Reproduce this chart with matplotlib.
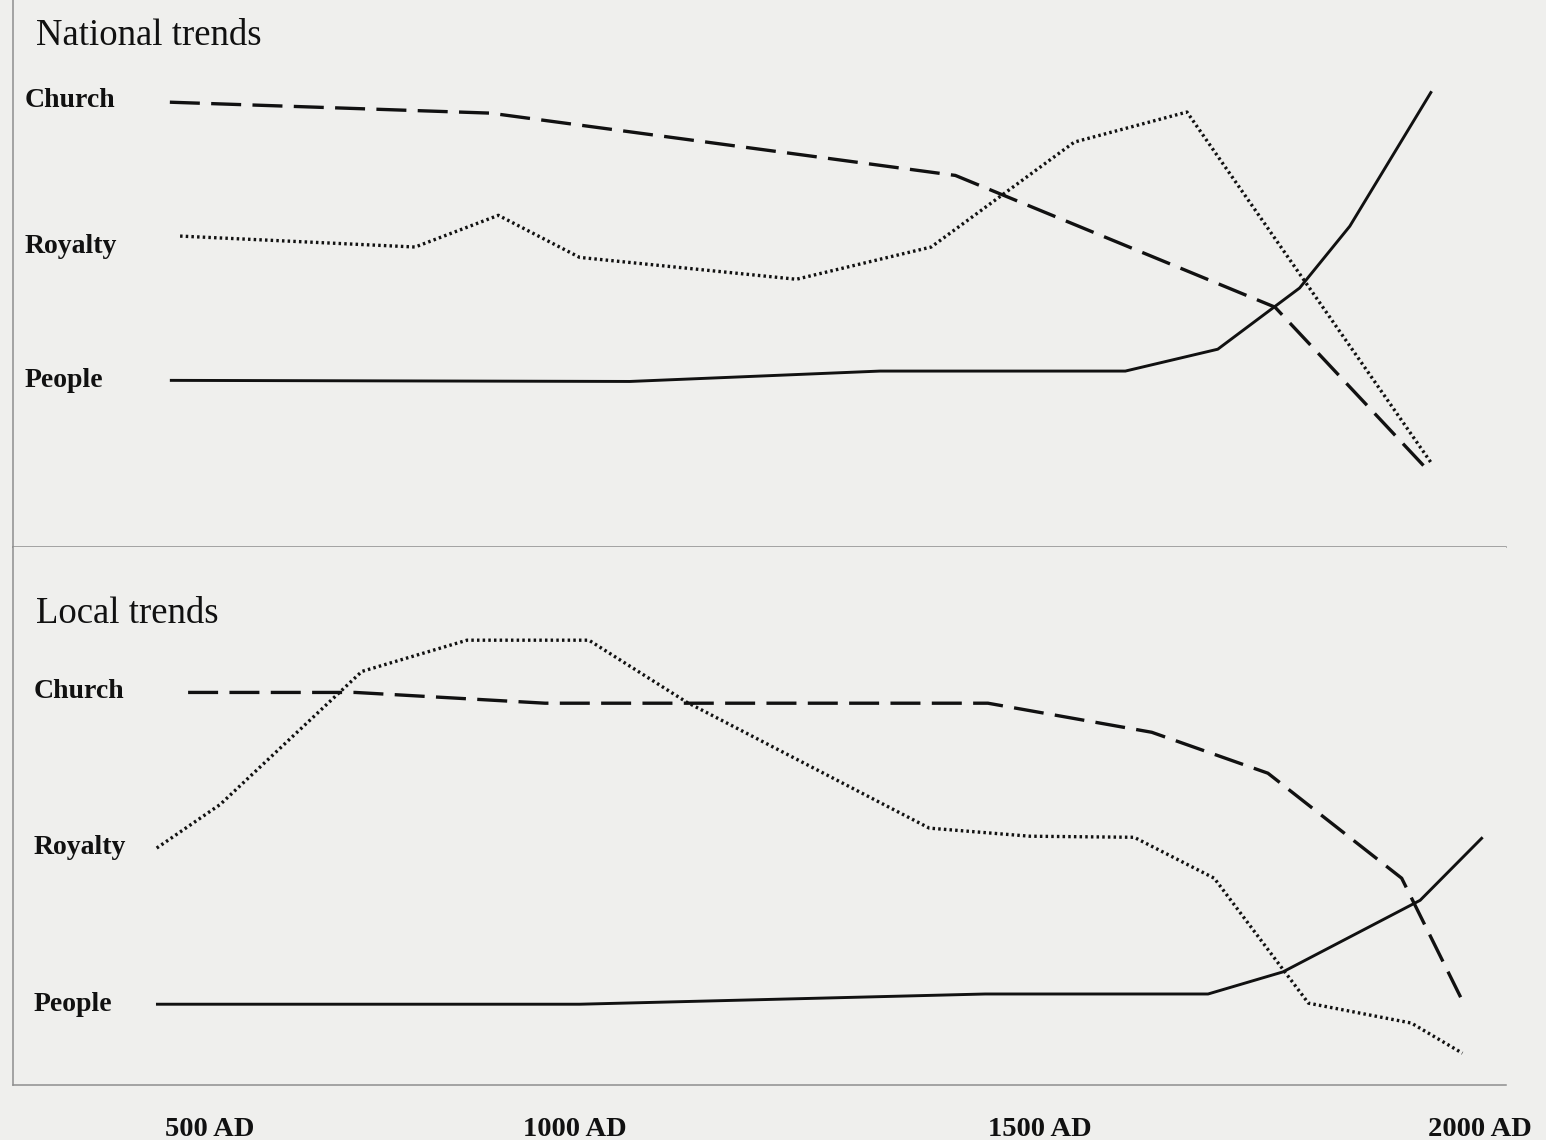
import numpy as np
import matplotlib
matplotlib.use("Agg")
import matplotlib.pyplot as plt

# ---------------- data (years, relative influence 0-100) ----------------
series_names = ["Church", "Royalty", "People"]
tick_years = [500, 1000, 1500, 2000]
tick_labels = ["500 AD", "1000 AD", "1500 AD", "2000 AD"]

nat_church_x = [445, 884, 1409, 1767, 1944]
nat_church_y = [81.3, 79.3, 67.9, 43.8, 13.4]
nat_royalty_x = [459, 781, 895, 1005, 1238, 1383, 1539, 1667, 1945]
nat_royalty_y = [56.8, 54.8, 60.6, 52.9, 48.9, 54.8, 74.0, 79.5, 15.2]
nat_people_x = [445, 1059, 1328, 1597, 1702, 1795, 1852, 1945]
nat_people_y = [30.4, 30.2, 32.1, 32.1, 36.1, 47.3, 58.6, 83.3]

loc_church_x = [470, 699, 959, 1444, 1627, 1759, 1911, 1978]
loc_church_y = [72.9, 72.9, 70.9, 70.9, 65.5, 57.9, 38.4, 16.3]
loc_royalty_x = [427, 514, 708, 852, 1015, 1120, 1381, 1489, 1607, 1698, 1805, 1922, 1980]
loc_royalty_y = [44.0, 52.1, 76.8, 82.6, 82.6, 71.1, 47.7, 46.2, 46.0, 38.4, 15.2, 11.5, 5.9]
loc_people_x = [426, 1005, 1441, 1691, 1776, 1932, 2003]
loc_people_y = [15.0, 15.0, 16.9, 16.9, 21.0, 34.3, 46.0]

# ---------------- layout / style ----------------
W, H, DPI = 1546, 1140, 100
BG = "#efefed"
INK = "#111111"
RULE = "#8e8e8e"
SERIF = ["Liberation Serif", "DejaVu Serif"]

# uneven time axis of the original drawing (piecewise-linear scale)
SCALE_YEARS = [0, 500, 1000, 1500, 2500]
SCALE_POS = [-155, 210, 575, 1040, 1920]


def fwd(v):
    return np.interp(v, SCALE_YEARS, SCALE_POS)


def inv(p):
    return np.interp(p, SCALE_POS, SCALE_YEARS)


X_LEFT_PX, X_RIGHT_PX = 13, 1506
xlim = (float(inv(X_LEFT_PX)), float(inv(X_RIGHT_PX)))

styles = {
    "Church": dict(linestyle=(0, (9.0, 3.4)), linewidth=2.4, dash_capstyle="butt"),
    "Royalty": dict(linestyle=(0, (0.75, 0.95)), linewidth=2.4, dash_capstyle="butt"),
    "People": dict(linestyle="-", linewidth=2.1),
}

fig = plt.figure(figsize=(W / DPI, H / DPI), dpi=DPI, facecolor=BG)

left = X_LEFT_PX / W
width = (X_RIGHT_PX - X_LEFT_PX) / W
ax_top = fig.add_axes([left, (H - 546.5) / H, width, 546.5 / H])
ax_bot = fig.add_axes([left, (H - 1085) / H, width, (1085 - 546.5) / H])

# label placement (axes fractions: x, baselines of Church/Royalty/People, title baseline)
panels = [
    (ax_top, "National trends",
     [(nat_church_x, nat_church_y), (nat_royalty_x, nat_royalty_y), (nat_people_x, nat_people_y)],
     0.0075, [0.8042, 0.5371, 0.2919], 0.9177),
    (ax_bot, "Local trends",
     [(loc_church_x, loc_church_y), (loc_royalty_x, loc_royalty_y), (loc_people_x, loc_people_y)],
     0.0140, [0.7187, 0.4290, 0.1374], 0.858),
]

for ax, title, data, label_x, label_ys, title_y in panels:
    ax.set_facecolor(BG)
    ax.set_xscale("function", functions=(fwd, inv))
    ax.set_xlim(*xlim)
    ax.set_ylim(0, 100)
    for name, (xs, ys), ly in zip(series_names, data, label_ys):
        ax.plot(xs, ys, color=INK, solid_capstyle="butt", **styles[name])
        ax.text(label_x, ly, name, transform=ax.transAxes, ha="left", va="baseline",
                fontsize=20, fontweight="bold", family=SERIF, color=INK)
    ax.text(0.0155, title_y, title, transform=ax.transAxes, ha="left", va="baseline",
            fontsize=26.5, family=SERIF, color=INK)
    for s in ("top", "right"):
        ax.spines[s].set_visible(False)
    for s in ("left", "bottom"):
        ax.spines[s].set_color(RULE)
        ax.spines[s].set_linewidth(1.1)
    ax.set_yticks([])
    ax.tick_params(axis="x", length=0)

ax_top.set_xticks([])
ax_bot.set_xticks(tick_years)
ax_bot.set_xticklabels(tick_labels)
ax_bot.tick_params(axis="x", pad=23)
for lbl in ax_bot.get_xticklabels():
    lbl.set_fontfamily(SERIF)
    lbl.set_fontweight("bold")
    lbl.set_fontsize(20.5)
    lbl.set_color(INK)

fig.savefig("out.png", dpi=DPI, facecolor=BG)
